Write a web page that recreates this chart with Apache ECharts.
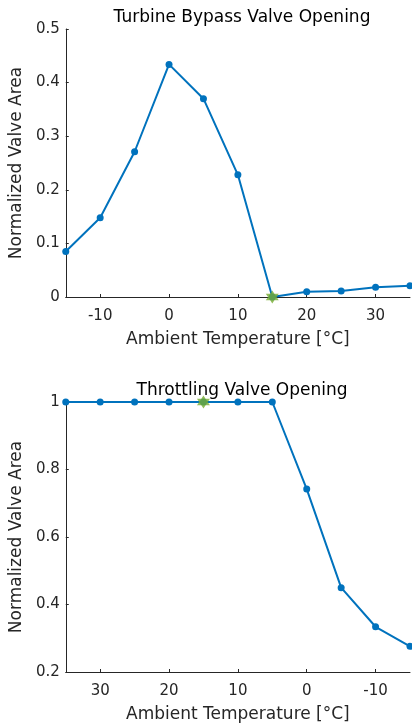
<!DOCTYPE html>
<html>
<head>
<meta charset="utf-8">
<style>
  html, body { margin: 0; padding: 0; background: #fff; }
  #main { width: 412px; height: 728px; }
</style>
<script src="https://cdn.jsdelivr.net/npm/echarts@6/dist/echarts.min.js"></script>
</head>
<body>
<div id="main"></div>
<script>
// ambient temperatures (°C)
const temps = [-15, -10, -5, 0, 5, 10, 15, 20, 25, 30, 35];
// turbine bypass valve, normalized area
const bypassArea = [0.085, 0.148, 0.271, 0.434, 0.370, 0.228, 0, 0.010, 0.011, 0.018, 0.021];
// throttling valve, normalized area
const throttleArea = [0.276, 0.334, 0.450, 0.742, 1, 1, 1, 1, 1, 1, 1];
// design point (green star)
const designTemp = 15;
const bypassDesign = 0;
const throttleDesign = 1;

const xTicksTop = [-10, 0, 10, 20, 30];
const xTicksBottom = [30, 20, 10, 0, -10];
const yTicksTop = [0, 0.1, 0.2, 0.3, 0.4, 0.5];
const yTicksBottom = [0.2, 0.4, 0.6, 0.8, 1];

const blue = '#0072BD';
const green = '#77AC30';
const axisCol = '#262626';
const font = 'DejaVu Sans, sans-serif';

// six-point star
const hexagram = 'path://M50,0 L64,25 L93,25 L78,50 L93,75 L64,75 L50,100 L36,75 L7,75 L22,50 L7,25 L36,25 Z';

function pairs(xs, ys) {
  return xs.map((x, i) => [x, ys[i]]);
}

function xAxisCfg(gridIndex, ticks, inverse) {
  return {
    type: 'value', gridIndex: gridIndex, min: -15, max: 35, inverse: inverse,
    name: 'Ambient Temperature [°C]', nameLocation: 'middle', nameGap: 34,
    nameTextStyle: { color: axisCol, fontSize: 17, fontFamily: font },
    axisLine: { show: true, onZero: false, lineStyle: { color: axisCol, width: 1 } },
    axisTick: { show: true, inside: true, length: 3, customValues: ticks, lineStyle: { color: axisCol } },
    axisLabel: { customValues: ticks, color: axisCol, fontSize: 15, fontFamily: font, margin: 12 },
    splitLine: { show: false }
  };
}

function yAxisCfg(gridIndex, min, max, ticks) {
  return {
    type: 'value', gridIndex: gridIndex, min: min, max: max,
    name: 'Normalized Valve Area', nameLocation: 'middle', nameGap: 34,
    nameTextStyle: { color: axisCol, fontSize: 17, fontFamily: font },
    axisLine: { show: true, onZero: false, lineStyle: { color: axisCol, width: 1 } },
    axisTick: { show: true, inside: true, length: 3, customValues: ticks, lineStyle: { color: axisCol } },
    axisLabel: { customValues: ticks, color: axisCol, fontSize: 15, fontFamily: font, margin: 6,
      formatter: v => String(Math.round(v * 10) / 10) },
    splitLine: { show: false }
  };
}

const chart = echarts.init(document.getElementById('main'));
chart.setOption({
  animation: false,
  backgroundColor: '#fff',
  title: [
    { text: 'Turbine Bypass Valve Opening', left: 237, top: 4, textAlign: 'center',
      textStyle: { color: '#000', fontSize: 17, fontWeight: 'normal', fontFamily: font } },
    { text: 'Throttling Valve Opening', left: 237, top: 377, textAlign: 'center',
      textStyle: { color: '#000', fontSize: 17, fontWeight: 'normal', fontFamily: font } }
  ],
  grid: [
    { left: 65, top: 29, width: 345, height: 268 },
    { left: 65, top: 402, width: 345, height: 270 }
  ],
  xAxis: [
    xAxisCfg(0, xTicksTop, false),
    xAxisCfg(1, xTicksBottom, true)
  ],
  yAxis: [
    yAxisCfg(0, 0, 0.5, yTicksTop),
    yAxisCfg(1, 0.2, 1, yTicksBottom)
  ],
  series: [
    { type: 'line', xAxisIndex: 0, yAxisIndex: 0, data: pairs(temps, bypassArea),
      symbol: 'circle', symbolSize: 7, showAllSymbol: true,
      lineStyle: { color: blue, width: 2 }, itemStyle: { color: blue } },
    { type: 'scatter', xAxisIndex: 0, yAxisIndex: 0, data: [[designTemp, bypassDesign]],
      symbol: hexagram, symbolSize: 13, itemStyle: { color: green }, z: 5 },
    { type: 'line', xAxisIndex: 1, yAxisIndex: 1, data: pairs(temps, throttleArea),
      symbol: 'circle', symbolSize: 7, showAllSymbol: true,
      lineStyle: { color: blue, width: 2 }, itemStyle: { color: blue } },
    { type: 'scatter', xAxisIndex: 1, yAxisIndex: 1, data: [[designTemp, throttleDesign]],
      symbol: hexagram, symbolSize: 13, itemStyle: { color: green }, z: 5 }
  ]
});
</script>
</body>
</html>
